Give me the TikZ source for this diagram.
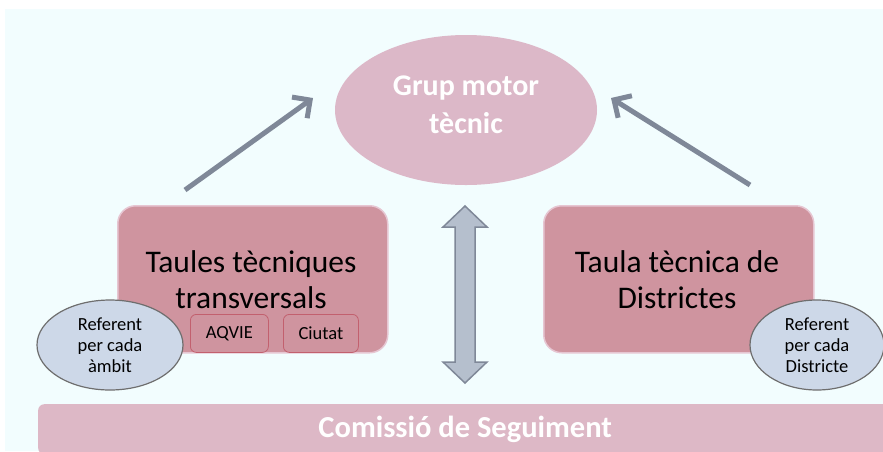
\documentclass[tikz,border=0pt]{standalone}
\usepackage{fontspec}
\setmainfont{Carlito}
\usetikzlibrary{arrows.meta,shapes.geometric}
\definecolor{bgc}{HTML}{F2FDFE}
\definecolor{topfill}{HTML}{DCB8C8}
\definecolor{boxfill}{HTML}{CF949F}
\definecolor{boxline}{HTML}{E6C6D2}
\definecolor{subline}{HTML}{C2606E}
\definecolor{reffill}{HTML}{CDD8E8}
\definecolor{refline}{HTML}{6E6E6E}
\definecolor{arrowc}{HTML}{7F8898}
\definecolor{dblfill}{HTML}{B5BFCD}
\definecolor{barfill}{HTML}{DDB8C6}
\tikzset{
  bigbox/.style={draw=boxline, line width=1.5pt, fill=boxfill, rounded corners=18pt, minimum width=270pt, minimum height=147pt, inner sep=0pt},
  boxtext/.style={align=center, font=\fontsize{31.5}{36}\selectfont},
  subbox/.style={draw=subline, line width=0.8pt, fill=boxfill, rounded corners=6pt, minimum height=38pt, inner sep=0pt, font=\fontsize{18.5}{20}\selectfont},
  refell/.style={ellipse, draw=refline, line width=1.2pt, fill=reffill, inner sep=0pt, align=center, font=\fontsize{18.5}{21}\selectfont},
  uparrow/.style={draw=arrowc, line width=5pt, -{Straight Barb[length=13pt,width=26pt,line width=5pt]}},
}
\begin{document}
\begin{tikzpicture}[x=1pt,y=-1pt]
\useasboundingbox (0,0) rectangle (883,451);
\fill[white] (0,0) rectangle (883,451);
\fill[bgc] (5,9) rectangle (883,451);
% bottom bar
\node[fill=barfill, rounded corners=6pt, minimum width=860pt, minimum height=50pt, inner sep=0pt, anchor=north west, text=white, font=\bfseries\fontsize{30.5}{34}\selectfont] (bar) at (38,404) {\hspace*{-6pt}Comissió de Seguiment};
% top ellipse
\node[ellipse, fill=topfill, minimum width=262pt, minimum height=150pt, inner sep=0pt] (gm) at (466,110) {};
\node[align=center, text=white, font=\bfseries\fontsize{30}{38}\selectfont] (gml) at (466,105) {Grup motor\\tècnic};
% boxes
\node[bigbox, anchor=north west] (tt) at (117,205) {};
\node[boxtext] (ttl) at (251,280) {Taules tècniques\\transversals};
\node[bigbox, anchor=north west] (td) at (543,205) {};
\node[boxtext] (tdl) at (677,280) {Taula tècnica de\\Districtes};
% sub boxes
\node[subbox, minimum width=78pt, anchor=north west] (aq) at (190,314) {AQVIE};
\node[subbox, minimum width=75pt, anchor=north west] (ci) at (283,314) {Ciutat};
% referent ellipses
\node[refell, minimum width=146pt, minimum height=90pt] (rl) at (110,345) {Referent\\per cada\\àmbit};
\node[refell, minimum width=134pt, minimum height=90pt] (rr) at (817,345) {Referent\\per cada\\Districte};
% arrows
\coordinate (la) at (185,190);
\coordinate (ra) at (750,185);
\draw[uparrow] (la) -- (313,98);
\draw[uparrow] (ra) -- (611,98);
% double arrow
\coordinate (dtop) at (465,206);
\coordinate (dbot) at (465,383);
\draw[draw=arrowc, fill=dblfill, line width=1.5pt, line join=miter]
  (dtop) -- (487,227) -- (475,227) -- (475,362) -- (487,362) -- (dbot)
  -- (443,362) -- (455,362) -- (455,227) -- (443,227) -- cycle;
\end{tikzpicture}
\end{document}
